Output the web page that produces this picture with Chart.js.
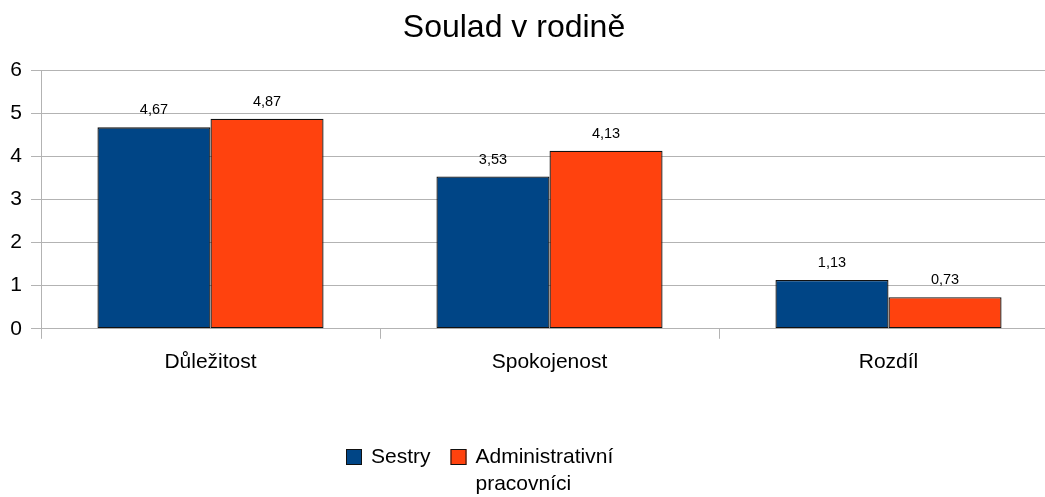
<!DOCTYPE html>
<html>
<head>
<meta charset="utf-8">
<script src="https://cdn.jsdelivr.net/npm/chart.js@4/dist/chart.umd.min.js"></script>
<style>
  html, body { margin: 0; padding: 0; background: #fff; overflow: hidden; }
  #wrap { position: relative; width: 1058px; height: 497px; }
</style>
</head>
<body>
<div id="wrap"><canvas id="c"></canvas></div>
<script>
// Průměrné hodnoty – soulad v rodině
const titleText = 'Soulad v rodině';
const categories = ['Důležitost', 'Spokojenost', 'Rozdíl'];
const sestry = [4.67, 3.53, 1.13];
const administrativni = [4.87, 4.13, 0.73];
const seriesNames = ['Sestry', 'Administrativní pracovníci'];
const legendLines = [['Sestry'], ['Administrativní', 'pracovníci']];
const yTicks = [0, 1, 2, 3, 4, 5, 6];

const FONT = "'Liberation Sans', Arial, sans-serif";
const BLUE = '#004586';
const ORANGE = '#ff420e';
const GRID = '#b3b3b3';
const EDGE = '#111111';

const fmt = v => v.toFixed(2).replace('.', ',');

// Title drawn centred above the plot
const titlePlugin = {
  id: 'titleText',
  afterDraw(chart) {
    const ctx = chart.ctx;
    ctx.save();
    ctx.font = '32px ' + FONT;
    ctx.fillStyle = '#000';
    ctx.textAlign = 'center';
    ctx.textBaseline = 'middle';
    ctx.fillText(titleText, 514, 28);
    ctx.restore();
  }
};

// Value labels above each bar
const valueLabels = {
  id: 'valueLabels',
  afterDatasetsDraw(chart) {
    const ctx = chart.ctx;
    ctx.save();
    ctx.font = '14.5px ' + FONT;
    ctx.fillStyle = '#000';
    ctx.textAlign = 'center';
    ctx.textBaseline = 'middle';
    chart.data.datasets.forEach((ds, i) => {
      chart.getDatasetMeta(i).data.forEach((bar, j) => {
        ctx.fillText(fmt(ds.data[j]), bar.x, bar.y - 17);
      });
    });
    ctx.restore();
  }
};

// Legend below the plot, second label wrapped onto two lines
const legendPlugin = {
  id: 'bottomLegend',
  afterDraw(chart) {
    const ctx = chart.ctx;
    ctx.save();
    ctx.font = '21px ' + FONT;
    ctx.textBaseline = 'middle';
    ctx.textAlign = 'left';
    let x = 346;
    const y = 457;
    const box = 16;
    chart.data.datasets.forEach((ds, i) => {
      ctx.fillStyle = ds.backgroundColor;
      ctx.fillRect(x, y - box / 2, box, box);
      ctx.strokeStyle = EDGE;
      ctx.lineWidth = 1;
      ctx.strokeRect(x + 0.5, y - box / 2 + 0.5, box - 1, box - 1);
      ctx.fillStyle = '#000';
      const tx = x + box + 9;
      let w = 0;
      legendLines[i].forEach((line, k) => {
        ctx.fillText(line, tx, y + k * 27);
        w = Math.max(w, ctx.measureText(line).width);
      });
      x = tx + w + 20;
    });
    ctx.restore();
  }
};

new Chart(document.getElementById('c'), {
  type: 'bar',
  data: {
    labels: categories,
    datasets: [
      { label: seriesNames[0], data: sestry, backgroundColor: BLUE,
        borderColor: EDGE, borderWidth: 1.3, borderSkipped: false },
      { label: seriesNames[1], data: administrativni, backgroundColor: ORANGE,
        borderColor: EDGE, borderWidth: 1.3, borderSkipped: false }
    ]
  },
  options: {
    responsive: true,
    maintainAspectRatio: false,
    animation: false,
    events: [],
    layout: { padding: { top: 70, right: 0, bottom: 111, left: 0 } },
    datasets: { bar: { categoryPercentage: 0.667, barPercentage: 1.0 } },
    plugins: { legend: { display: false }, title: { display: false }, tooltip: { enabled: false } },
    scales: {
      x: {
        grid: { display: true, offset: true, drawOnChartArea: false, drawTicks: true,
                tickLength: 10, color: GRID },
        border: { display: false },
        ticks: { color: '#000', font: { family: FONT, size: 21 }, padding: 11, maxRotation: 0 }
      },
      y: {
        min: 0, max: 6,
        afterFit(scale) { scale.width = 41; },
        afterBuildTicks(scale) { scale.ticks = yTicks.map(v => ({ value: v })); },
        grid: { color: GRID, tickLength: 10, drawTicks: true },
        border: { display: true, color: GRID },
        ticks: { color: '#000', font: { family: FONT, size: 21 }, padding: 9 }
      }
    }
  },
  plugins: [titlePlugin, valueLabels, legendPlugin]
});
</script>
</body>
</html>
